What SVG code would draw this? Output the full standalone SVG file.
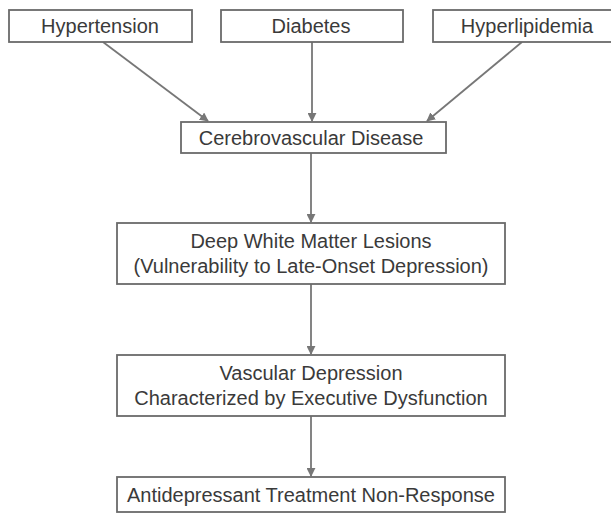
<svg xmlns="http://www.w3.org/2000/svg" width="611" height="516" viewBox="0 0 611 516">
<style>
.box{fill:#fff;stroke:#6a6a6a;stroke-width:1.8}
.lbl{font-family:"Liberation Sans",Arial,sans-serif;font-size:20px;fill:#3a3a3a;text-anchor:middle}
.edge{stroke:#777;stroke-width:1.8;fill:none;marker-end:url(#ah)}
</style>
<defs>
<marker id="ah" viewBox="0 0 10 10" refX="9" refY="5" markerWidth="5" markerHeight="5" orient="auto" markerUnits="strokeWidth">
<path d="M0,0 L10,5 L0,10 z" fill="#777"/>
</marker>
</defs>
<rect width="611" height="516" fill="#fff"/>
<g id="connectors">
<line class="edge" x1="103" y1="42" x2="208" y2="121"/>
<line class="edge" x1="312" y1="42" x2="312" y2="121"/>
<line class="edge" x1="522" y1="42" x2="427" y2="121"/>
<line class="edge" x1="311" y1="153" x2="311" y2="222"/>
<line class="edge" x1="311" y1="284" x2="311" y2="354"/>
<line class="edge" x1="311" y1="416" x2="311" y2="476"/>
</g>
<g id="hypertension"><rect class="box" x="9" y="10" width="183" height="32"/><text class="lbl" x="100" y="33">Hypertension</text></g>
<g id="diabetes"><rect class="box" x="221" y="10" width="182" height="32"/><text class="lbl" x="311" y="33">Diabetes</text></g>
<g id="hyperlipidemia"><rect class="box" x="433" y="10" width="185" height="32"/><text class="lbl" x="527" y="33">Hyperlipidemia</text></g>
<g id="cerebrovascular"><rect class="box" x="181" y="122" width="265" height="31"/><text class="lbl" x="311" y="145">Cerebrovascular Disease</text></g>
<g id="dwml"><rect class="box" x="117" y="223" width="388" height="61"/><text class="lbl" x="311" y="248">Deep White Matter Lesions</text><text class="lbl" x="311" y="273">(Vulnerability to Late-Onset Depression)</text></g>
<g id="vascular"><rect class="box" x="117" y="355" width="388" height="61"/><text class="lbl" x="311" y="380">Vascular Depression</text><text class="lbl" x="311" y="405">Characterized by Executive Dysfunction</text></g>
<g id="nonresponse"><rect class="box" x="117" y="477" width="388" height="35"/><text class="lbl" x="311" y="502">Antidepressant Treatment Non-Response</text></g>
</svg>
